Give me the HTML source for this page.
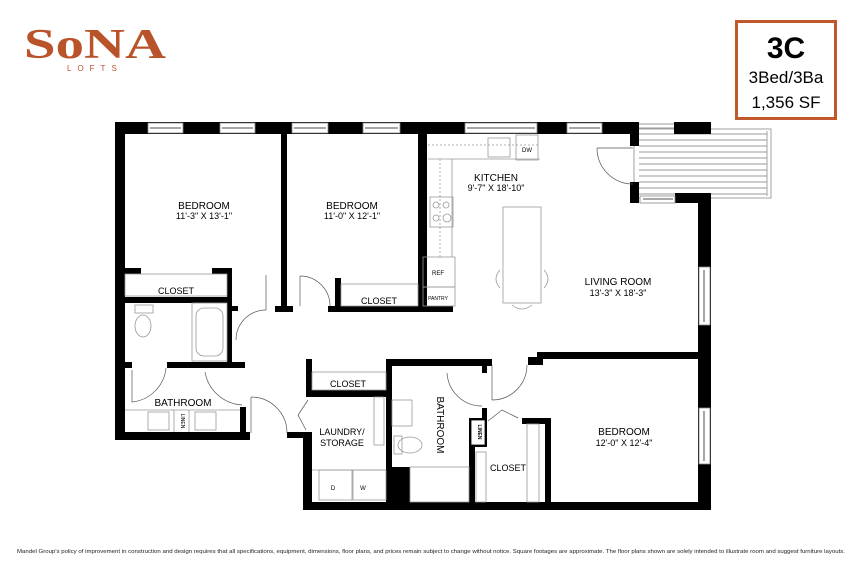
<!DOCTYPE html>
<html><head><meta charset="utf-8"><style>
html,body{margin:0;padding:0;background:#fff;}
svg{display:block;}
text{font-family:"Liberation Sans",sans-serif;}
text.logo{font-family:"Liberation Serif",serif;font-weight:bold;}
</style></head><body>
<svg width="859" height="573" viewBox="0 0 859 573" xmlns="http://www.w3.org/2000/svg">
<!-- Logo -->
<text class="logo" x="24" y="58" font-size="42" fill="#b9532a" textLength="142" lengthAdjust="spacingAndGlyphs">SoNA</text>
<text x="67" y="71" font-size="8" fill="#b9532a" letter-spacing="6">LOFTS</text>
<!-- Box -->
<rect x="736.5" y="21.5" width="99" height="97" fill="none" stroke="#c0582c" stroke-width="3"/>
<text x="786" y="58" text-anchor="middle" font-weight="bold" font-size="30" fill="#000">3C</text>
<text x="786" y="83" text-anchor="middle" font-size="17" fill="#000">3Bed/3Ba</text>
<text x="786" y="108" text-anchor="middle" font-size="17" fill="#000">1,356 SF</text>

<!-- Balcony -->
<g stroke="#999" stroke-width="0.9" fill="none">
<rect x="634" y="129" width="137" height="69"/>
<line x1="767" y1="131" x2="767" y2="196"/>
<line x1="639" y1="134" x2="767" y2="134"/><line x1="639" y1="140" x2="767" y2="140"/>
<line x1="639" y1="146" x2="767" y2="146"/><line x1="639" y1="152" x2="767" y2="152"/>
<line x1="639" y1="158" x2="767" y2="158"/><line x1="639" y1="164" x2="767" y2="164"/>
<line x1="639" y1="170" x2="767" y2="170"/><line x1="639" y1="176" x2="767" y2="176"/>
<line x1="639" y1="182" x2="767" y2="182"/><line x1="639" y1="188" x2="767" y2="188"/>
<line x1="639" y1="194" x2="767" y2="194"/>
<line x1="639" y1="124" x2="674" y2="124"/><line x1="639" y1="128" x2="674" y2="128"/>
</g>

<g fill="#000">
<rect x="115" y="122" width="488" height="12"/>
<rect x="603" y="122" width="36" height="12"/>
<rect x="630" y="134" width="9" height="12"/>
<rect x="674" y="122" width="37" height="12"/>
<rect x="115" y="122" width="10" height="318"/>
<rect x="281" y="134" width="6" height="178"/>
<rect x="275" y="306" width="18" height="6"/>
<rect x="418" y="134" width="9" height="178"/>
<rect x="328" y="306" width="125" height="6"/>
<rect x="335" y="278" width="6" height="34"/>
<rect x="125" y="268" width="16" height="6"/>
<rect x="212" y="268" width="20" height="6"/>
<rect x="227" y="268" width="5" height="95"/>
<rect x="115" y="297" width="117" height="6"/>
<rect x="232" y="306" width="6" height="5"/>
<rect x="167" y="362" width="78" height="6"/>
<rect x="125" y="362" width="7" height="6"/>
<rect x="115" y="432" width="135" height="8"/>
<rect x="240" y="407" width="6" height="33"/>
<rect x="306" y="359" width="6" height="38"/>
<rect x="306" y="390" width="80" height="7"/>
<rect x="303" y="432" width="9" height="78"/>
<rect x="287" y="432" width="25" height="6"/>
<rect x="386" y="359" width="6" height="108"/>
<rect x="386" y="467" width="24" height="38"/>
<rect x="386" y="359" width="106" height="7"/>
<rect x="482" y="366" width="5" height="7"/>
<rect x="482" y="408" width="5" height="39"/>
<rect x="469" y="418" width="18" height="29" />
<rect x="469" y="447" width="6" height="58"/>
<rect x="522" y="418" width="28" height="6"/>
<rect x="545" y="418" width="6" height="87"/>
<rect x="303" y="502" width="408" height="8"/>
<rect x="537" y="352" width="165" height="7"/>
<rect x="528" y="357" width="15" height="8"/>
<rect x="698" y="193" width="13" height="317"/>
<rect x="675" y="193" width="36" height="10"/>
<rect x="630" y="182" width="9" height="21"/>
</g>
<rect x="471" y="420" width="14" height="25" fill="#fff" stroke="#000" stroke-width="0.8"/>
<text x="478" y="432" font-size="5" font-weight="bold" transform="rotate(90 478 432)" text-anchor="middle">LINEN</text>

<g fill="#fff" stroke="#888" stroke-width="0.8">
<rect x="148" y="123" width="35" height="10"/><rect x="220" y="123" width="35" height="10"/>
<rect x="292" y="123" width="36" height="10"/><rect x="363" y="123" width="37" height="10"/>
<rect x="465" y="123" width="72" height="10"/><rect x="567" y="123" width="35" height="10"/>
<rect x="640" y="196" width="35" height="7"/>
<rect x="699" y="267" width="11" height="58"/>
<rect x="699" y="408" width="11" height="56"/>
</g>
<g stroke="#888" stroke-width="1.5">
<line x1="150" y1="128" x2="181" y2="128"/><line x1="222" y1="128" x2="253" y2="128"/>
<line x1="294" y1="128" x2="326" y2="128"/><line x1="365" y1="128" x2="398" y2="128"/>
<line x1="467" y1="128" x2="535" y2="128"/><line x1="569" y1="128" x2="600" y2="128"/>
<line x1="643" y1="199" x2="673" y2="199"/>
<line x1="704" y1="270" x2="704" y2="322"/><line x1="704" y1="411" x2="704" y2="461"/>
</g>

<g fill="none" stroke="#999" stroke-width="0.8">
<path d="M428 159 H540 M452 159 V257" />
<path d="M428 145 H540 M440 159 V257" stroke-dasharray="2,2"/>
<rect x="488" y="138" width="22" height="19"/>
<rect x="516" y="135" width="22" height="25"/>
<rect x="430" y="197" width="23" height="30"/>
<circle cx="436" cy="205" r="3"/><circle cx="446" cy="205" r="3"/><circle cx="436" cy="218" r="3"/><circle cx="447" cy="218" r="4"/>
<rect x="503" y="207" width="38" height="96"/>
<path d="M500 270 q-8 9 0 18 M544 270 q8 9 0 18 M512 305 q10 8 20 0"/>
<rect x="125" y="274" width="102" height="22"/>
<rect x="341" y="284" width="77" height="22"/>
<rect x="312" y="372" width="74" height="18"/>
<rect x="192" y="303" width="35" height="58"/>
<rect x="196" y="308" width="27" height="48" rx="8"/>
<ellipse cx="143" cy="326" rx="8" ry="11"/><rect x="135" y="305" width="18" height="8"/>
<line x1="125" y1="410" x2="240" y2="410"/>
<rect x="148" y="412" width="21" height="18"/><rect x="195" y="412" width="21" height="18"/>
<line x1="174" y1="410" x2="174" y2="432"/><line x1="189" y1="410" x2="189" y2="432"/>
<rect x="374" y="397" width="10" height="48"/>
<rect x="392" y="400" width="20" height="26"/>
<ellipse cx="410" cy="445" rx="12" ry="8"/><rect x="394" y="436" width="8" height="18"/>
<rect x="410" y="467" width="59" height="35"/>
<rect x="476" y="452" width="10" height="50"/><rect x="527" y="424" width="12" height="78"/>
<line x1="312" y1="470" x2="386" y2="470"/>
<rect x="319" y="470" width="33" height="30"/><rect x="353" y="470" width="33" height="30"/>
</g>
<g fill="none" stroke="#555" stroke-width="0.7">
<path d="M597 148 A36 36 0 0 0 633 184"/><line x1="597" y1="148" x2="633" y2="148"/>
<path d="M236 340 A30 30 0 0 1 266 310"/><line x1="266" y1="275" x2="266" y2="310"/>
<path d="M330 306 A30 30 0 0 0 300 276"/><line x1="300" y1="276" x2="300" y2="306"/>
<path d="M132 370 V402 A38 38 0 0 0 166 368"/>
<path d="M205 372 A40 40 0 0 0 242 405"/>
<path d="M251 397 A36 36 0 0 1 287 433"/><line x1="251" y1="397" x2="251" y2="433"/>
<path d="M447 373 A35 35 0 0 0 482 406"/>
<path d="M492 400 A35 35 0 0 0 527 365"/><line x1="492" y1="365" x2="492" y2="400"/>
<path d="M308 400 L298 415 L306 430 M488 421 L502 410 L518 418"/>
</g>

<g font-size="10" fill="#000" text-anchor="middle">
<text x="204" y="209">BEDROOM</text><text x="204" y="219" font-size="9">11'-3" X 13'-1"</text>
<text x="352" y="209">BEDROOM</text><text x="352" y="219" font-size="9">11'-0" X 12'-1"</text>
<text x="496" y="181">KITCHEN</text><text x="496" y="191" font-size="9">9'-7" X 18'-10"</text>
<text x="618" y="285">LIVING ROOM</text><text x="618" y="296" font-size="9">13'-3" X 18'-3"</text>
<text x="624" y="435">BEDROOM</text><text x="624" y="446" font-size="9">12'-0" X 12'-4"</text>
<text x="176" y="294" font-size="9">CLOSET</text>
<text x="379" y="304" font-size="9">CLOSET</text>
<text x="348" y="387" font-size="9">CLOSET</text>
<text x="508" y="471" font-size="9">CLOSET</text>
<text x="183" y="406">BATHROOM</text>
<text x="342" y="435" font-size="9">LAUNDRY/</text><text x="342" y="446" font-size="9">STORAGE</text>
<text x="437" y="425" font-size="10" transform="rotate(90 437 425)">BATHROOM</text>
<text x="438" y="275" font-size="6">REF</text>
<text x="438" y="300" font-size="5">PANTRY</text>
<text x="527" y="152" font-size="6">DW</text>
<text x="333" y="490" font-size="6">D</text><text x="363" y="490" font-size="6">W</text>
<text x="181" y="421" font-size="5" transform="rotate(90 181 421)">LINEN</text>
</g>
<rect x="423" y="257" width="32" height="30" fill="none" stroke="#999" stroke-width="0.8"/>
<rect x="423" y="287" width="32" height="19" fill="none" stroke="#999" stroke-width="0.8"/>
<text x="17" y="553" font-size="5" fill="#222" textLength="828" lengthAdjust="spacingAndGlyphs">Mandel Group's policy of improvement in construction and design requires that all specifications, equipment, dimensions, floor plans, and prices remain subject to change without notice. Square footages are approximate. The floor plans shown are solely intended to illustrate room and suggest furniture layouts.</text>
</svg>
</body></html>
